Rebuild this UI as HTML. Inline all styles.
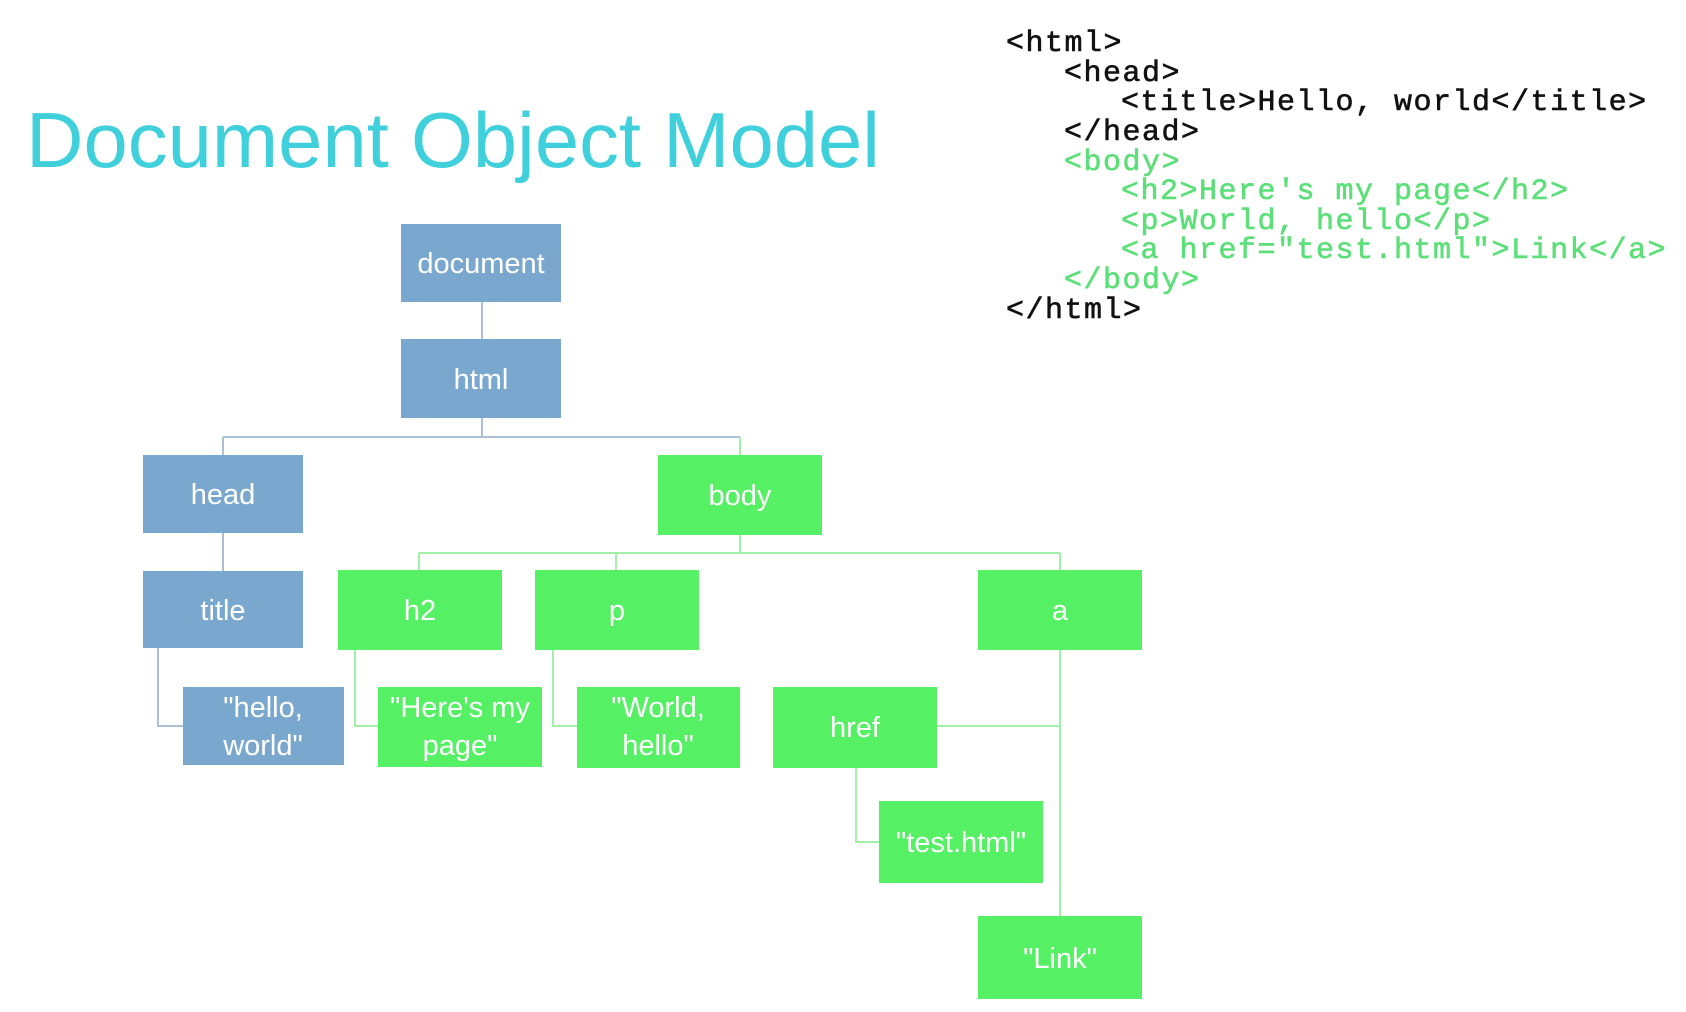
<!DOCTYPE html>
<html><head><meta charset="utf-8"><style>
html,body{margin:0;padding:0;background:#fff;}
svg{display:block;}
.b{fill:#7aa7cd;}
.g{fill:#55f064;}
.t{fill:#fff;font-family:"Liberation Sans",sans-serif;font-size:29px;text-anchor:middle;}
.c{font-family:"Liberation Mono",monospace;font-size:30px;letter-spacing:1.5px;stroke-width:0.6px;}
</style></head><body>
<svg width="1686" height="1012" viewBox="0 0 1686 1012" xmlns="http://www.w3.org/2000/svg">
<text x="26" y="167" font-family="Liberation Sans,sans-serif" font-size="78" fill="#3fd0dc" textLength="854" lengthAdjust="spacingAndGlyphs">Document Object Model</text>

<g class="c">
<text x="1006" y="51" fill="#111" stroke="#111">&lt;html&gt;</text>
<text x="1064" y="81" fill="#111" stroke="#111">&lt;head&gt;</text>
<text x="1121" y="110" fill="#111" stroke="#111">&lt;title&gt;Hello, world&lt;/title&gt;</text>
<text x="1064" y="140" fill="#111" stroke="#111">&lt;/head&gt;</text>
<text x="1064" y="170" fill="#5cdf78" stroke="#5cdf78">&lt;body&gt;</text>
<text x="1121" y="199" fill="#5cdf78" stroke="#5cdf78">&lt;h2&gt;Here's my page&lt;/h2&gt;</text>
<text x="1121" y="229" fill="#5cdf78" stroke="#5cdf78">&lt;p&gt;World, hello&lt;/p&gt;</text>
<text x="1121" y="258" fill="#5cdf78" stroke="#5cdf78">&lt;a href="test.html"&gt;Link&lt;/a&gt;</text>
<text x="1064" y="288" fill="#5cdf78" stroke="#5cdf78">&lt;/body&gt;</text>
<text x="1006" y="318" fill="#111" stroke="#111">&lt;/html&gt;</text>
</g>

<g fill="none" stroke-width="2">
<g stroke="#aac0d4">
<path d="M482 302V339M482 418V437M223 437H740M223 437V455M223 533V571M158 648V726H183"/>
</g>
<g stroke="#a0f0aa">
<path d="M740 437V455M740 535V553M419 553H1060M419 553V570M616 553V570M1060 553V570M355 650V726H378M553 650V726H577M1060 650V916M937 726H1060M856 768V842H879"/>
</g>
</g>

<rect class="b" x="401" y="224" width="160" height="78"/><text class="t" x="481" y="273">document</text>
<rect class="b" x="401" y="339" width="160" height="79"/><text class="t" x="481" y="389">html</text>
<rect class="b" x="143" y="455" width="160" height="78"/><text class="t" x="223" y="504">head</text>
<rect class="g" x="658" y="455" width="164" height="80"/><text class="t" x="740" y="505">body</text>
<rect class="b" x="143" y="571" width="160" height="77"/><text class="t" x="223" y="620">title</text>
<rect class="g" x="338" y="570" width="164" height="80"/><text class="t" x="420" y="620">h2</text>
<rect class="g" x="535" y="570" width="164" height="80"/><text class="t" x="617" y="620">p</text>
<rect class="g" x="978" y="570" width="164" height="80"/><text class="t" x="1060" y="620">a</text>
<rect class="b" x="183" y="687" width="161" height="78"/><text class="t" x="263" y="717">"hello,</text><text class="t" x="263" y="755">world"</text>
<rect class="g" x="378" y="687" width="164" height="80"/><text class="t" x="460" y="717">"Here's my</text><text class="t" x="460" y="755">page"</text>
<rect class="g" x="577" y="687" width="163" height="81"/><text class="t" x="658" y="717">"World,</text><text class="t" x="658" y="755">hello"</text>
<rect class="g" x="773" y="687" width="164" height="81"/><text class="t" x="855" y="737">href</text>
<rect class="g" x="879" y="801" width="164" height="82"/><text class="t" x="961" y="852">"test.html"</text>
<rect class="g" x="978" y="916" width="164" height="83"/><text class="t" x="1060" y="968">"Link"</text>
</svg>
</body></html>
